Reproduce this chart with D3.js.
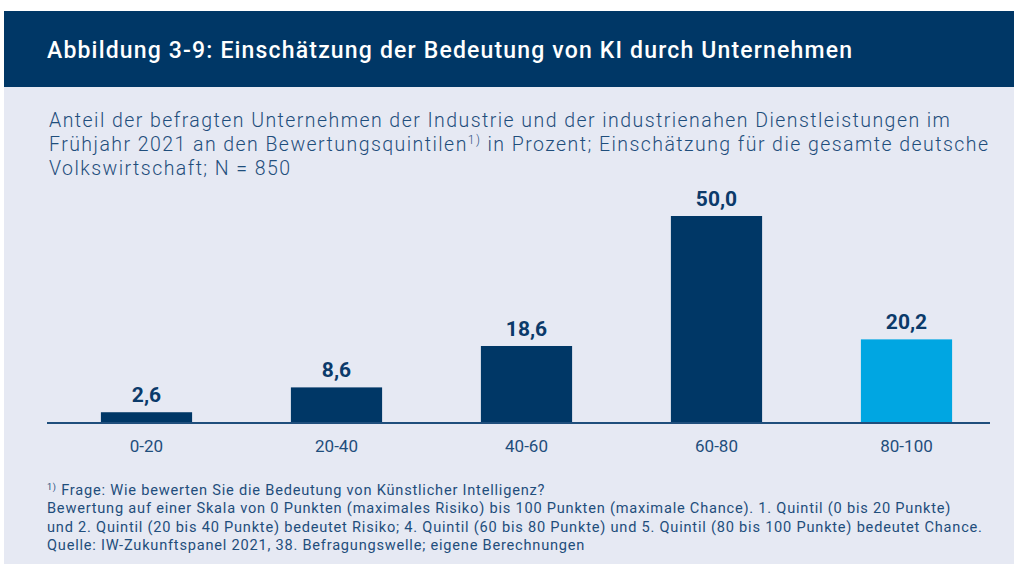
<!DOCTYPE html>
<html>
<head>
<meta charset="utf-8">
<script src="https://cdn.jsdelivr.net/npm/d3@7"></script>
<style>
  body { margin: 0; background: #fff; }
  svg { display: block; font-family: Roboto, "Noto Sans", sans-serif; }
</style>
</head>
<body>
<div id="chart"></div>
<script>
// data
var categories = ["0-20", "20-40", "40-60", "60-80", "80-100"];
var values = [2.6, 8.6, 18.6, 50.0, 20.2];
var highlight = ["80-100"];

var title = "Abbildung 3-9: Einschätzung der Bedeutung von KI durch Unternehmen";
var subtitle = [
  "Anteil der befragten Unternehmen der Industrie und der industrienahen Dienstleistungen im",
  "Frühjahr 2021 an den Bewertungsquintilen|1)| in Prozent; Einschätzung für die gesamte deutsche",
  "Volkswirtschaft; N = 850"
];
var notes = [
  "|1)| Frage: Wie bewerten Sie die Bedeutung von Künstlicher Intelligenz?",
  "Bewertung auf einer Skala von 0 Punkten (maximales Risiko) bis 100 Punkten (maximale Chance). 1. Quintil (0 bis 20 Punkte)",
  "und 2. Quintil (20 bis 40 Punkte) bedeutet Risiko; 4. Quintil (60 bis 80 Punkte) und 5. Quintil (80 bis 100 Punkte) bedeutet Chance.",
  "Quelle: IW-Zukunftspanel 2021, 38. Befragungswelle; eigene Berechnungen"
];

var width = 1014, height = 564;
var navy = "#003766", textCol = "#1f4e7c";

var svg = d3.select("#chart").append("svg")
    .attr("width", width)
    .attr("height", height);

// panel background + header
svg.append("rect").attr("x", 4).attr("y", 87).attr("width", width - 4).attr("height", height - 87).attr("fill", "#e6e9f3");
svg.append("rect").attr("x", 4).attr("y", 11).attr("width", width - 4).attr("height", 76).attr("fill", navy);

svg.append("text")
    .attr("x", 47).attr("y", 58)
    .attr("fill", "#fff")
    .attr("font-size", 23)
    .attr("font-weight", 500)
    .attr("letter-spacing", 1.17)
    .text(title);

// text with superscript parts marked by |...|
function richText(sel, str, supSize) {
  str.split("|").forEach(function (part, i) {
    if (!part) return;
    var t = sel.append("tspan").text(part);
    if (i % 2 === 1) {
      t.attr("font-size", supSize).attr("baseline-shift", "super");
    }
  });
}

var sub = svg.append("g").attr("fill", textCol).attr("font-size", 19.5)
    .attr("font-weight", 300).attr("letter-spacing", 1.45);
subtitle.forEach(function (line, i) {
  richText(sub.append("text").attr("x", 49).attr("y", 127 + i * 24), line, 12);
});

// scales
var x = d3.scaleBand()
    .domain(categories)
    .range([51.5, 1001.5])
    .paddingInner(0.52)
    .paddingOuter(0.26);

var y = d3.scaleLinear()
    .domain([0, 50])
    .range([423, 216]);

var data = categories.map(function (c, i) { return { cat: c, value: values[i] }; });

svg.selectAll(".bar")
    .data(data)
    .enter().append("rect")
    .attr("class", "bar")
    .attr("x", function (d) { return x(d.cat); })
    .attr("y", function (d) { return y(d.value); })
    .attr("width", x.bandwidth())
    .attr("height", function (d) { return y(0) - y(d.value); })
    .attr("fill", function (d) { return highlight.indexOf(d.cat) >= 0 ? "#00a6e2" : navy; });

svg.selectAll(".val")
    .data(data)
    .enter().append("text")
    .attr("class", "val")
    .attr("x", function (d) { return x(d.cat) + x.bandwidth() / 2; })
    .attr("y", function (d) { return y(d.value) - 10; })
    .attr("text-anchor", "middle")
    .attr("fill", "#0b3a6a")
    .attr("font-size", 21)
    .attr("font-weight", 700)
    .text(function (d) { return d3.format(".1f")(d.value).replace(".", ","); });

// x axis
var xAxis = svg.append("g")
    .attr("transform", "translate(0," + y(0) + ")")
    .call(d3.axisBottom(x).tickSize(0).tickPadding(17));
xAxis.select(".domain").attr("d", "M47,0H990").attr("stroke", "#1f4e7c").attr("stroke-width", 2);
xAxis.selectAll("text")
    .attr("fill", textCol)
    .attr("font-size", 17)
    .attr("font-family", "Roboto, sans-serif");

var foot = svg.append("g").attr("fill", textCol).attr("font-size", 14.6).attr("letter-spacing", 0.78);
notes.forEach(function (line, i) {
  richText(foot.append("text").attr("x", 47).attr("y", 495 + i * 18.3), line, 9);
});
</script>
</body>
</html>
